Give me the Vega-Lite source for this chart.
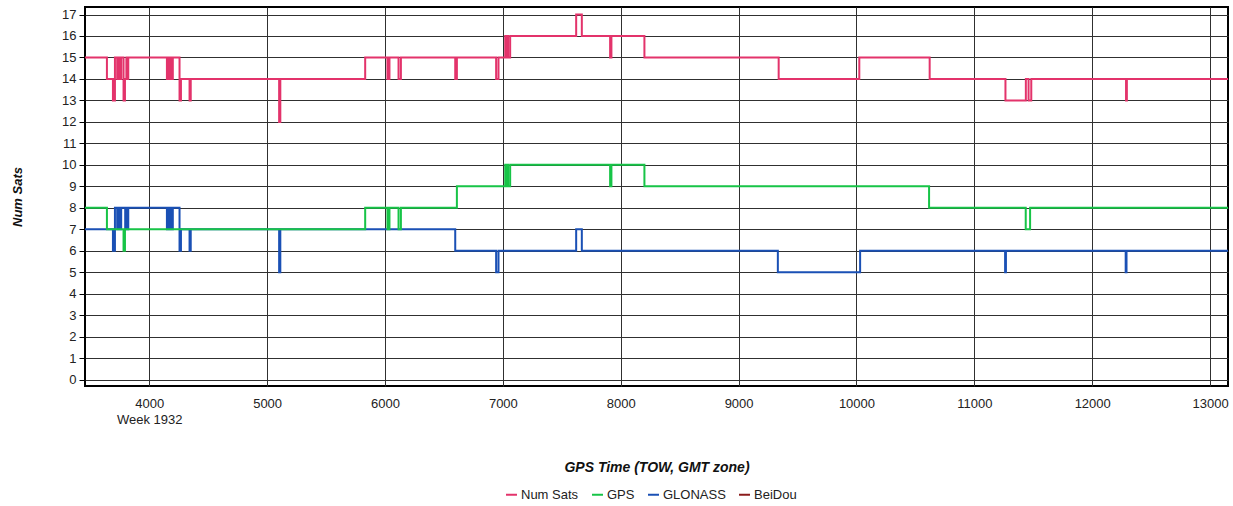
{
  "$schema": "https://vega.github.io/schema/vega-lite/v6.json",
  "width": 1143,
  "height": 379,
  "autosize": "none",
  "padding": {"left": 85, "top": 7, "right": 5, "bottom": 120},
  "background": "white",
  "config": {
    "view": {"stroke": "#000000", "strokeWidth": 2},
    "font": "Liberation Sans",
    "axis": {"labelFont": "Liberation Sans", "labelFontSize": 13, "labelColor": "#222222", "titleFont": "Liberation Sans", "titleFontSize": 13, "titleFontStyle": "italic", "titleFontWeight": "bold", "titleColor": "#111111", "gridColor": "#303030", "gridOpacity": 1, "gridWidth": 1, "domain": false},
    "legend": {"labelFont": "Liberation Sans", "labelFontSize": 13, "labelColor": "#222222"}
  },
  "datasets": {
    "sats": [
      {"t": 3450, "n": 7, "s": "GLONASS"},
      {"t": 3692, "n": 6, "s": "GLONASS"},
      {"t": 3709, "n": 8, "s": "GLONASS"},
      {"t": 3728, "n": 7, "s": "GLONASS"},
      {"t": 3738, "n": 8, "s": "GLONASS"},
      {"t": 3752, "n": 7, "s": "GLONASS"},
      {"t": 3762, "n": 8, "s": "GLONASS"},
      {"t": 3796, "n": 7, "s": "GLONASS"},
      {"t": 3806, "n": 8, "s": "GLONASS"},
      {"t": 3815, "n": 7, "s": "GLONASS"},
      {"t": 3822, "n": 8, "s": "GLONASS"},
      {"t": 4150, "n": 7, "s": "GLONASS"},
      {"t": 4158, "n": 8, "s": "GLONASS"},
      {"t": 4168, "n": 7, "s": "GLONASS"},
      {"t": 4178, "n": 8, "s": "GLONASS"},
      {"t": 4190, "n": 7, "s": "GLONASS"},
      {"t": 4200, "n": 8, "s": "GLONASS"},
      {"t": 4257, "n": 6, "s": "GLONASS"},
      {"t": 4269, "n": 7, "s": "GLONASS"},
      {"t": 4342, "n": 6, "s": "GLONASS"},
      {"t": 4352, "n": 7, "s": "GLONASS"},
      {"t": 5102, "n": 5, "s": "GLONASS"},
      {"t": 5112, "n": 7, "s": "GLONASS"},
      {"t": 6596, "n": 6, "s": "GLONASS"},
      {"t": 6943, "n": 5, "s": "GLONASS"},
      {"t": 6963, "n": 6, "s": "GLONASS"},
      {"t": 7622, "n": 7, "s": "GLONASS"},
      {"t": 7670, "n": 6, "s": "GLONASS"},
      {"t": 9333, "n": 5, "s": "GLONASS"},
      {"t": 10031, "n": 6, "s": "GLONASS"},
      {"t": 11261, "n": 5, "s": "GLONASS"},
      {"t": 11268, "n": 6, "s": "GLONASS"},
      {"t": 12284, "n": 5, "s": "GLONASS"},
      {"t": 12291, "n": 6, "s": "GLONASS"},
      {"t": 13200, "n": 6, "s": "GLONASS"},
      {"t": 3450, "n": 8, "s": "GPS"},
      {"t": 3641, "n": 7, "s": "GPS"},
      {"t": 3782, "n": 6, "s": "GPS"},
      {"t": 3794, "n": 7, "s": "GPS"},
      {"t": 5832, "n": 8, "s": "GPS"},
      {"t": 6021, "n": 7, "s": "GPS"},
      {"t": 6038, "n": 8, "s": "GPS"},
      {"t": 6115, "n": 7, "s": "GPS"},
      {"t": 6135, "n": 8, "s": "GPS"},
      {"t": 6610, "n": 9, "s": "GPS"},
      {"t": 7020, "n": 10, "s": "GPS"},
      {"t": 7028, "n": 9, "s": "GPS"},
      {"t": 7036, "n": 10, "s": "GPS"},
      {"t": 7044, "n": 9, "s": "GPS"},
      {"t": 7062, "n": 10, "s": "GPS"},
      {"t": 7910, "n": 9, "s": "GPS"},
      {"t": 7921, "n": 10, "s": "GPS"},
      {"t": 8201, "n": 9, "s": "GPS"},
      {"t": 10616, "n": 8, "s": "GPS"},
      {"t": 11436, "n": 7, "s": "GPS"},
      {"t": 11473, "n": 8, "s": "GPS"},
      {"t": 13200, "n": 8, "s": "GPS"},
      {"t": 3450, "n": 15, "s": "Num Sats"},
      {"t": 3641, "n": 14, "s": "Num Sats"},
      {"t": 3692, "n": 13, "s": "Num Sats"},
      {"t": 3709, "n": 15, "s": "Num Sats"},
      {"t": 3728, "n": 14, "s": "Num Sats"},
      {"t": 3738, "n": 15, "s": "Num Sats"},
      {"t": 3752, "n": 14, "s": "Num Sats"},
      {"t": 3762, "n": 15, "s": "Num Sats"},
      {"t": 3782, "n": 13, "s": "Num Sats"},
      {"t": 3794, "n": 14, "s": "Num Sats"},
      {"t": 3806, "n": 15, "s": "Num Sats"},
      {"t": 3815, "n": 14, "s": "Num Sats"},
      {"t": 3822, "n": 15, "s": "Num Sats"},
      {"t": 4150, "n": 14, "s": "Num Sats"},
      {"t": 4158, "n": 15, "s": "Num Sats"},
      {"t": 4168, "n": 14, "s": "Num Sats"},
      {"t": 4178, "n": 15, "s": "Num Sats"},
      {"t": 4190, "n": 14, "s": "Num Sats"},
      {"t": 4200, "n": 15, "s": "Num Sats"},
      {"t": 4257, "n": 13, "s": "Num Sats"},
      {"t": 4269, "n": 14, "s": "Num Sats"},
      {"t": 4342, "n": 13, "s": "Num Sats"},
      {"t": 4352, "n": 14, "s": "Num Sats"},
      {"t": 5102, "n": 12, "s": "Num Sats"},
      {"t": 5112, "n": 14, "s": "Num Sats"},
      {"t": 5832, "n": 15, "s": "Num Sats"},
      {"t": 6021, "n": 14, "s": "Num Sats"},
      {"t": 6038, "n": 15, "s": "Num Sats"},
      {"t": 6115, "n": 14, "s": "Num Sats"},
      {"t": 6135, "n": 15, "s": "Num Sats"},
      {"t": 6596, "n": 14, "s": "Num Sats"},
      {"t": 6610, "n": 15, "s": "Num Sats"},
      {"t": 6943, "n": 14, "s": "Num Sats"},
      {"t": 6963, "n": 15, "s": "Num Sats"},
      {"t": 7020, "n": 16, "s": "Num Sats"},
      {"t": 7028, "n": 15, "s": "Num Sats"},
      {"t": 7036, "n": 16, "s": "Num Sats"},
      {"t": 7044, "n": 15, "s": "Num Sats"},
      {"t": 7062, "n": 16, "s": "Num Sats"},
      {"t": 7622, "n": 17, "s": "Num Sats"},
      {"t": 7670, "n": 16, "s": "Num Sats"},
      {"t": 7910, "n": 15, "s": "Num Sats"},
      {"t": 7921, "n": 16, "s": "Num Sats"},
      {"t": 8201, "n": 15, "s": "Num Sats"},
      {"t": 9340, "n": 14, "s": "Num Sats"},
      {"t": 10024, "n": 15, "s": "Num Sats"},
      {"t": 10621, "n": 14, "s": "Num Sats"},
      {"t": 11264, "n": 13, "s": "Num Sats"},
      {"t": 11437, "n": 14, "s": "Num Sats"},
      {"t": 11460, "n": 13, "s": "Num Sats"},
      {"t": 11483, "n": 14, "s": "Num Sats"},
      {"t": 12287, "n": 13, "s": "Num Sats"},
      {"t": 12294, "n": 14, "s": "Num Sats"},
      {"t": 13200, "n": 14, "s": "Num Sats"}
    ]
  },
  "data": {"name": "sats"},
  "mark": {"type": "line", "interpolate": "step-after", "strokeWidth": 2, "clip": true},
  "encoding": {
    "x": {
      "field": "t", "type": "quantitative",
      "scale": {"domain": [3455, 13152], "nice": false, "zero": false},
      "axis": {
        "values": [4000, 5000, 6000, 7000, 8000, 9000, 10000, 11000, 12000, 13000],
        "format": "d",
        "title": "GPS Time (TOW, GMT zone)",
        "titleFontSize": 14,
        "ticks": false,
        "labelPadding": 11,
        "labelLineHeight": 16,
        "labelExpr": "datum.value == 4000 ? ['4000', 'Week 1932'] : datum.label",
        "titlePadding": 34
      }
    },
    "y": {
      "field": "n", "type": "quantitative",
      "scale": {"domain": [-0.3, 17.35], "nice": false, "zero": false},
      "axis": {
        "values": [0, 1, 2, 3, 4, 5, 6, 7, 8, 9, 10, 11, 12, 13, 14, 15, 16, 17],
        "title": "Num Sats",
        "ticks": true, "tickSize": 6, "tickColor": "#000000",
        "labelPadding": 3,
        "titlePadding": 37
      }
    },
    "color": {
      "field": "s", "type": "nominal",
      "scale": {"domain": ["Num Sats", "GPS", "GLONASS", "BeiDou"], "range": ["#e3336b", "#17c447", "#1a50b5", "#8b1c1c"]},
      "legend": {"title": null, "orient": "none", "legendX": 420, "legendY": 481, "direction": "horizontal", "symbolType": "stroke", "symbolStrokeWidth": 2, "symbolSize": 120, "columnPadding": 9, "labelOffset": 3}
    }
  }
}
